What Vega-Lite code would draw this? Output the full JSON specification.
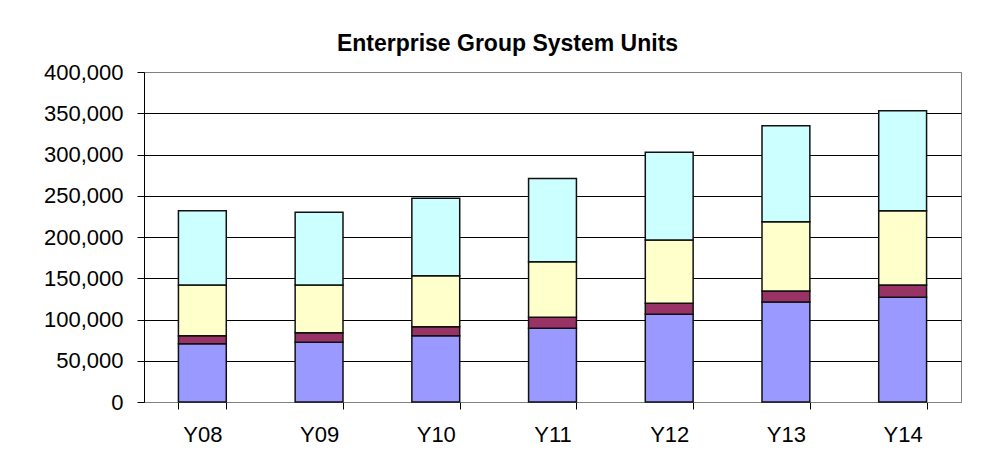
{
  "$schema": "https://vega.github.io/schema/vega-lite/v6.json",
  "width": 817,
  "height": 330,
  "autosize": {"type": "none"},
  "padding": {"left": 144, "top": 72, "right": 29, "bottom": 48},
  "background": "white",
  "title": {
    "text": "Enterprise Group System Units",
    "font": "Liberation Sans",
    "fontSize": 23,
    "fontWeight": "bold",
    "color": "black",
    "anchor": "middle",
    "dx": -45,
    "dy": 32,
    "baseline": "alphabetic",
    "offset": 19
  },
  "data": {
    "values": [
      {"year": "Y08", "series": "Segment 1", "k": 1, "units": 70700},
      {"year": "Y08", "series": "Segment 2", "k": 2, "units": 9700},
      {"year": "Y08", "series": "Segment 3", "k": 3, "units": 61400},
      {"year": "Y08", "series": "Segment 4", "k": 4, "units": 90000},
      {"year": "Y09", "series": "Segment 1", "k": 1, "units": 72400},
      {"year": "Y09", "series": "Segment 2", "k": 2, "units": 11600},
      {"year": "Y09", "series": "Segment 3", "k": 3, "units": 57800},
      {"year": "Y09", "series": "Segment 4", "k": 4, "units": 88200},
      {"year": "Y10", "series": "Segment 1", "k": 1, "units": 80400},
      {"year": "Y10", "series": "Segment 2", "k": 2, "units": 10900},
      {"year": "Y10", "series": "Segment 3", "k": 3, "units": 61700},
      {"year": "Y10", "series": "Segment 4", "k": 4, "units": 94000},
      {"year": "Y11", "series": "Segment 1", "k": 1, "units": 89300},
      {"year": "Y11", "series": "Segment 2", "k": 2, "units": 13400},
      {"year": "Y11", "series": "Segment 3", "k": 3, "units": 67300},
      {"year": "Y11", "series": "Segment 4", "k": 4, "units": 101000},
      {"year": "Y12", "series": "Segment 1", "k": 1, "units": 106300},
      {"year": "Y12", "series": "Segment 2", "k": 2, "units": 13300},
      {"year": "Y12", "series": "Segment 3", "k": 3, "units": 76800},
      {"year": "Y12", "series": "Segment 4", "k": 4, "units": 106200},
      {"year": "Y13", "series": "Segment 1", "k": 1, "units": 121200},
      {"year": "Y13", "series": "Segment 2", "k": 2, "units": 13300},
      {"year": "Y13", "series": "Segment 3", "k": 3, "units": 84100},
      {"year": "Y13", "series": "Segment 4", "k": 4, "units": 116400},
      {"year": "Y14", "series": "Segment 1", "k": 1, "units": 126900},
      {"year": "Y14", "series": "Segment 2", "k": 2, "units": 14900},
      {"year": "Y14", "series": "Segment 3", "k": 3, "units": 90100},
      {"year": "Y14", "series": "Segment 4", "k": 4, "units": 121100}
    ]
  },
  "mark": {"type": "bar", "stroke": "#111111", "strokeWidth": 1.5},
  "encoding": {
    "x": {
      "field": "year",
      "type": "ordinal",
      "scale": {"paddingInner": 0.59, "paddingOuter": 0.295},
      "axis": {
        "title": null,
        "labelAngle": 0,
        "labelFont": "Liberation Sans",
        "labelFontSize": 22,
        "labelColor": "black",
        "labelPadding": 15,
        "tickSize": 7,
        "tickColor": "black",
        "tickBand": "extent",
        "domainColor": "#808080",
        "grid": false
      }
    },
    "y": {
      "field": "units",
      "type": "quantitative",
      "stack": "zero",
      "scale": {"domain": [0, 400000], "nice": false},
      "axis": {
        "title": null,
        "values": [0, 50000, 100000, 150000, 200000, 250000, 300000, 350000, 400000],
        "format": ",.0f",
        "labelFont": "Liberation Sans",
        "labelFontSize": 22,
        "labelColor": "black",
        "labelPadding": 14,
        "tickSize": 7,
        "tickColor": "black",
        "domainColor": "black",
        "grid": true,
        "gridColor": {"condition": {"test": "datum.value == 400000 || datum.value == 0", "value": "#808080"}, "value": "black"},
        "gridOpacity": 1
      }
    },
    "color": {
      "field": "series",
      "type": "nominal",
      "scale": {
        "domain": ["Segment 1", "Segment 2", "Segment 3", "Segment 4"],
        "range": ["#9999FF", "#993366", "#FFFFCC", "#CCFFFF"]
      },
      "legend": null
    },
    "order": {"field": "k", "type": "quantitative"}
  },
  "config": {
    "font": "Liberation Sans",
    "view": {"stroke": "#808080", "strokeWidth": 1}
  }
}
